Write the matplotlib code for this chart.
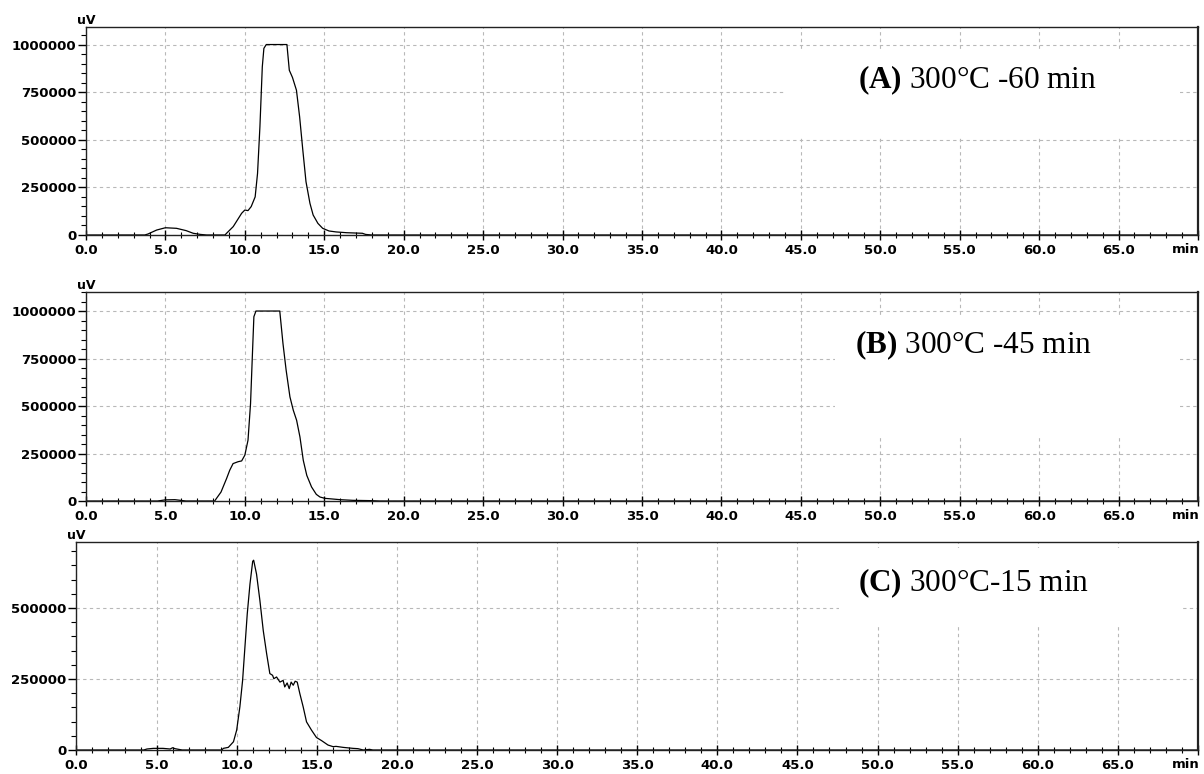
import matplotlib
matplotlib.use("Agg")
import matplotlib.pyplot as plt
from matplotlib.patches import Rectangle
from matplotlib.ticker import MultipleLocator, FuncFormatter
import numpy as np

# retention time (min) / signal (uV)
t_a = [0, 3.7, 3.9, 4.45, 5.0, 5.7, 6.3, 6.75, 7.2, 7.6, 8.75, 8.85, 9.27, 9.8, 10.0,
       10.2, 10.4, 10.65, 10.8, 10.95, 11.1, 11.2, 11.35, 12.65, 12.8, 13.0, 13.25,
       13.45, 13.65, 13.85, 14.1, 14.3, 14.6, 14.9, 15.3, 15.75, 16.4, 17.4, 17.6,
       18.0, 70]
y_a = [0, 0, 5000, 26000, 38000, 35000, 23000, 9000, 3000, 0, 0, 9000, 44000, 114000,
       131000, 128000, 149000, 200000, 323000, 568000, 883000, 980000, 1000000,
       1000000, 865000, 827000, 760000, 620000, 446000, 280000, 166000, 105000,
       61000, 35000, 21000, 16000, 12000, 9000, 3000, 0, 0]

t_b = [0, 4.5, 5.0, 5.6, 6.3, 8.1, 8.2, 8.5, 8.85, 9.05, 9.26, 9.58, 9.8, 10.0, 10.2,
       10.36, 10.48, 10.57, 10.7, 12.2, 12.4, 12.6, 12.84, 13.05, 13.26, 13.47,
       13.68, 13.9, 14.2, 14.5, 14.73, 15.04, 15.46, 16.0, 16.8, 17.9, 18.5, 70]
y_b = [0, 0, 6000, 7000, 0, 0, 12000, 47000, 118000, 162000, 197000, 207000, 211000,
       241000, 320000, 513000, 777000, 970000, 1000000, 1000000, 830000, 689000,
       548000, 478000, 425000, 337000, 214000, 135000, 74000, 35000, 21000, 14000,
       11000, 7000, 3500, 2000, 0, 0]

t_c = [0, 4.2, 4.4, 4.8, 5.4, 5.85, 6.0, 6.15, 6.6, 9.07, 9.17, 9.48, 9.8, 10.0, 10.2,
       10.37, 10.5, 10.66, 10.83, 11.0, 11.06, 11.24, 11.45, 11.66, 11.87, 12.07,
       12.24, 12.32, 12.49, 12.7, 12.9, 13.0, 13.15, 13.28, 13.4, 13.53, 13.65,
       13.78, 13.94, 14.15, 14.36, 14.67, 14.98, 15.3, 15.7, 16.02, 16.2, 16.64,
       17.26, 17.57, 17.9, 18.3, 18.5, 70]
y_c = [0, 0, 3500, 5800, 5800, 3500, 8000, 4700, 0, 0, 5800, 9300, 29000, 70000,
       152000, 245000, 350000, 479000, 584000, 664000, 668000, 619000, 526000,
       420000, 339000, 269000, 263000, 251000, 257000, 239000, 245000, 222000,
       236000, 216000, 239000, 228000, 242000, 239000, 199000, 152000, 99000,
       70000, 44000, 33000, 17500, 11700, 12800, 9300, 5800, 4700, 0, 2300, 0, 0]

labels = [r"$\mathbf{(A)}$ 300°C -60 min", r"$\mathbf{(B)}$ 300°C -45 min",
          r"$\mathbf{(C)}$ 300°C-15 min"]
ymax = [1092000, 1100000, 733000]

plt.rcParams["mathtext.fontset"] = "custom"
plt.rcParams["mathtext.bf"] = "Liberation Serif:bold"
plt.rcParams["mathtext.rm"] = "Liberation Serif"

fig = plt.figure(figsize=(12.04, 7.74), dpi=100)
rects = [[0.0714, 0.6964, 0.9236, 0.2687],
         [0.0714, 0.3527, 0.9236, 0.2700],
         [0.0635, 0.0310, 0.9315, 0.2691]]
# white box hiding the grid behind each label (axes fraction)
boxes = [(0.629, 0.47, 0.355, 0.42), (0.674, 0.30, 0.31, 0.58), (0.680, 0.59, 0.305, 0.38)]
text_pos = [(0.694, 0.745), (0.692, 0.746), (0.697, 0.803)]

for i, (t, y) in enumerate([(t_a, y_a), (t_b, y_b), (t_c, y_c)]):
    ax = fig.add_axes(rects[i])
    ax.set_axisbelow(True)
    ax.plot(t, y, color="black", lw=0.9, zorder=3)
    ax.set_xlim(0, 70)
    ax.set_ylim(0, ymax[i])
    ax.xaxis.set_major_locator(MultipleLocator(5))
    ax.xaxis.set_minor_locator(MultipleLocator(1))
    ax.yaxis.set_major_locator(MultipleLocator(250000))
    ax.yaxis.set_minor_locator(MultipleLocator(50000))
    ax.xaxis.set_major_formatter(FuncFormatter(lambda v, p: "" if v > 66 else f"{v:.1f}"))
    ax.yaxis.set_major_formatter(FuncFormatter(lambda v, p: f"{int(round(v))}"))
    ax.grid(True, which="major", color="#b8b8b8", linestyle=(0, (3, 3)), lw=0.8)
    ax.tick_params(axis="x", which="major", direction="inout", length=7, width=1, pad=3)
    ax.tick_params(axis="x", which="minor", direction="inout", length=5, width=0.8)
    ax.tick_params(axis="y", which="major", direction="out", length=6, width=1, pad=1)
    ax.tick_params(axis="y", which="minor", direction="out", length=3.5, width=0.8)
    for lab in ax.get_xticklabels() + ax.get_yticklabels():
        lab.set_fontfamily("DejaVu Sans")
        lab.set_fontweight("bold")
        lab.set_fontsize(9.5)
    for s in ax.spines.values():
        s.set_linewidth(1.0)
        s.set_color("#222222")
        s.set_zorder(5)
    ax.spines["right"].set_linewidth(1.6)
    ax.text(0, 1.0, "uV", transform=ax.transAxes, ha="center", va="bottom",
            fontsize=9, fontweight="bold", family="DejaVu Sans")
    ax.text(0.989, -0.04, "min", transform=ax.transAxes, ha="center", va="top",
            fontsize=9.5, fontweight="bold", family="DejaVu Sans")
    bx, by, bw, bh = boxes[i]
    ax.add_patch(Rectangle((bx, by), bw, bh, transform=ax.transAxes,
                           facecolor="white", edgecolor="none", zorder=1))
    ax.text(text_pos[i][0], text_pos[i][1], labels[i], transform=ax.transAxes,
            ha="left", va="center", fontsize=22.5, family="Liberation Serif", zorder=4)

fig.savefig("out.png", dpi=100)
